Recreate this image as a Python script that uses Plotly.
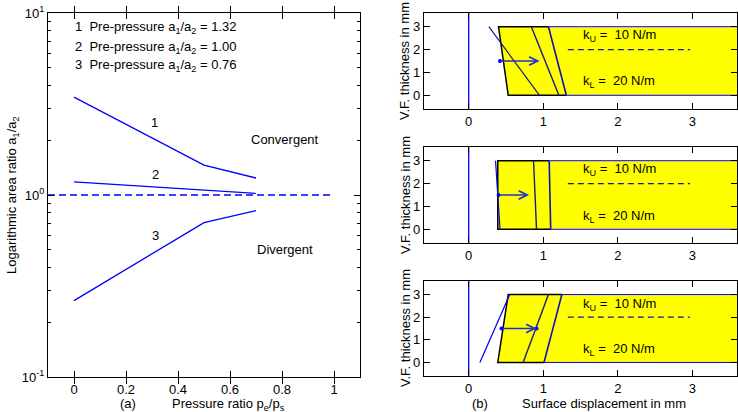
import math
import plotly.graph_objects as go

# ---------------- left panel data ----------------
pressure_ratio = [0.0, 0.5, 0.7]
area_ratio_case1 = [3.45, 1.46, 1.24]
area_ratio_case2 = [1.18, 1.06, 1.02]
area_ratio_case3 = [0.263, 0.705, 0.82]
unity_x = [-0.1, 1.0]
unity_y = [1.0, 1.0]
case_labels = ["1", "2", "3"]
case_label_x = [0.31, 0.315, 0.315]
case_label_y = [2.5, 1.29, 0.6]
preset_ratios = ["1.32", "1.00", "0.76"]
regime_labels = ["Convergent", "Divergent"]
regime_x = [0.81, 0.81]
regime_y = [2.03, 0.505]
left_xticks = [0, 0.2, 0.4, 0.6, 0.8, 1]
left_yticks = [0.1, 1, 10]
left_yticktext = ["10<sup>-1</sup>", "10<sup>0</sup>", "10<sup>1</sup>"]
left_minor = [0.2, 0.3, 0.4, 0.5, 0.6, 0.7, 0.8, 0.9, 2, 3, 4, 5, 6, 7, 8, 9]

# ---------------- right panels data ----------------
layer_bottom, layer_top = 0.0, 3.0
layer_left_top = [0.40, 0.39, 0.53]
layer_left_bottom = [0.53, 0.39, 0.39]
lineA_top = [0.27, 0.36, 0.55]
lineA_bottom = [0.95, 0.42, 0.15]
lineB_top = [0.84, 0.87, 1.07]
lineB_bottom = [1.21, 0.91, 0.73]
lineC_top = [1.07, 1.08, 1.25]
lineC_bottom = [1.31, 1.10, 1.01]
arrow_start = [0.42, 0.40, 0.44]
arrow_end = [0.95, 0.81, 0.91]
arrow_end_dot = [False, False, True]
arrow_y = 1.5
divider_x = [1.33, 2.97]
divider_y = 2.0
k_upper = "10 N/m"
k_lower = "20 N/m"
k_text_x = 1.5
k_upper_y = [2.62, 2.62, 2.57]
k_lower_y = [0.59, 0.56, 0.59]
right_xticks = [0, 1, 2, 3]
right_yticks = [0, 1, 2, 3]
x_far = 3.7

BLUE = "#0000ff"
NAVY = "#1a1a80"
FONT = "Liberation Sans, Arial, sans-serif"
TXT = dict(size=13, color="black", family=FONT)

fig = go.Figure()

# left panel
for ys in (area_ratio_case1, area_ratio_case2, area_ratio_case3):
    fig.add_trace(go.Scatter(x=pressure_ratio, y=ys, mode="lines",
                             line=dict(color=BLUE, width=1.3),
                             xaxis="x", yaxis="y", showlegend=False))
fig.add_trace(go.Scatter(x=unity_x, y=unity_y, mode="lines",
                         line=dict(color=BLUE, width=1.3, dash="7px,4px"),
                         xaxis="x", yaxis="y", showlegend=False))
# invisible carrier for the minor-tick overlay axis
fig.add_trace(go.Scatter(x=unity_x, y=unity_y, mode="lines", opacity=0,
                         line=dict(width=0), xaxis="x", yaxis="y5", showlegend=False,
                         hoverinfo="skip"))

annotations = []
for lab, lx, ly in zip(case_labels, case_label_x, case_label_y):
    annotations.append(dict(x=lx, y=math.log10(ly), xref="x", yref="y", text=lab,
                            xanchor="center", yanchor="middle", showarrow=False, font=TXT))
for lab, lx, ly in zip(regime_labels, regime_x, regime_y):
    annotations.append(dict(x=lx, y=math.log10(ly), xref="x", yref="y", text=lab,
                            xanchor="center", yanchor="middle", showarrow=False, font=TXT))
legend_y = [0.918, 0.813, 0.709]
for lab, r, ly in zip(case_labels, preset_ratios, legend_y):
    annotations.append(dict(x=-0.003, y=ly, xref="x", yref="y", xanchor="left", yanchor="middle",
                            text=f"{lab}\u00a0\u00a0Pre-pressure a<sub>1</sub>/a<sub>2</sub> = {r}",
                            showarrow=False, font=TXT))

# right panels
for i in range(3):
    xa = f"x{i + 2}"
    ya = f"y{i + 2}"
    fig.add_trace(go.Scatter(
        x=[layer_left_top[i], x_far, x_far, layer_left_bottom[i], layer_left_top[i]],
        y=[layer_top, layer_top, layer_bottom, layer_bottom, layer_top],
        mode="lines", fill="toself", fillcolor="#ffff00",
        line=dict(width=0, color="rgba(0,0,0,0)"),
        xaxis=xa, yaxis=ya, showlegend=False, hoverinfo="skip"))
    fig.add_trace(go.Scatter(
        x=[lineC_top[i], layer_left_top[i], layer_left_bottom[i], lineC_bottom[i]],
        y=[layer_top, layer_top, layer_bottom, layer_bottom],
        mode="lines", line=dict(color="black", width=1.5),
        xaxis=xa, yaxis=ya, showlegend=False))
    fig.add_trace(go.Scatter(x=[lineC_top[i], x_far], y=[layer_top, layer_top], mode="lines",
                             line=dict(color=BLUE, width=1), xaxis=xa, yaxis=ya, showlegend=False))
    fig.add_trace(go.Scatter(x=[lineC_bottom[i], x_far], y=[layer_bottom, layer_bottom], mode="lines",
                             line=dict(color=BLUE, width=1), xaxis=xa, yaxis=ya, showlegend=False))
    fig.add_trace(go.Scatter(x=[0, 0], y=[-0.6, 3.6], mode="lines",
                             line=dict(color=BLUE, width=1.3), xaxis=xa, yaxis=ya, showlegend=False))
    fig.add_trace(go.Scatter(x=[lineA_top[i], lineA_bottom[i]], y=[layer_top, layer_bottom], mode="lines",
                             line=dict(color=NAVY if i == 0 else BLUE, width=1.2),
                             xaxis=xa, yaxis=ya, showlegend=False))
    fig.add_trace(go.Scatter(x=[lineB_top[i], lineB_bottom[i]], y=[layer_top, layer_bottom], mode="lines",
                             line=dict(color=NAVY, width=1.4), xaxis=xa, yaxis=ya, showlegend=False))
    fig.add_trace(go.Scatter(x=[lineC_top[i], lineC_bottom[i]], y=[layer_top, layer_bottom], mode="lines",
                             line=dict(color="#1010c0", width=1.6), xaxis=xa, yaxis=ya, showlegend=False))
    fig.add_trace(go.Scatter(x=divider_x, y=[divider_y, divider_y], mode="lines",
                             line=dict(color=NAVY, width=1.3, dash="6px,4px"),
                             xaxis=xa, yaxis=ya, showlegend=False))
    dots_x = [arrow_start[i]] + ([arrow_end[i]] if arrow_end_dot[i] else [])
    fig.add_trace(go.Scatter(x=dots_x, y=[arrow_y] * len(dots_x), mode="markers",
                             marker=dict(color=BLUE, size=4), xaxis=xa, yaxis=ya, showlegend=False))
    annotations.append(dict(x=arrow_end[i], y=arrow_y, ax=arrow_start[i], ay=arrow_y,
                            xref=xa, yref=ya, axref=xa, ayref=ya, text="", showarrow=True,
                            arrowhead=5, arrowsize=1.2, arrowwidth=1.4, arrowcolor="#2030d0"))
    annotations.append(dict(x=k_text_x, y=k_upper_y[i], xref=xa, yref=ya, xanchor="left",
                            yanchor="middle", text=f"k<sub>U</sub> =\u00a0\u00a0{k_upper}",
                            showarrow=False, font=TXT))
    annotations.append(dict(x=k_text_x, y=k_lower_y[i], xref=xa, yref=ya, xanchor="left",
                            yanchor="middle", text=f"k<sub>L</sub> =\u00a0\u00a0{k_lower}",
                            showarrow=False, font=TXT))

W, H = 738, 412
ML, MR, MT, MB = 48, 1, 13, 35
PW, PH = W - ML - MR, H - MT - MB


def px(x):
    return (x - ML) / PW


def py(y):
    return (H - MB - y) / PH


def paper_text(x, y, text, angle=0):
    return dict(x=px(x), y=py(y), xref="paper", yref="paper", xanchor="center",
                yanchor="middle", textangle=angle, showarrow=False, text=text, font=TXT)


annotations += [
    paper_text(12, 195, "Logarithmic area ratio a<sub>1</sub>/a<sub>2</sub>", -90),
    paper_text(128, 403, "(a)"),
    paper_text(228, 404, "Pressure ratio p<sub>e</sub>/p<sub>s</sub>"),
    paper_text(480, 403, "(b)"),
    paper_text(604, 403, "Surface displacement in mm"),
]
for cy in (61, 195, 328):
    annotations.append(paper_text(405, cy, "V.F. thickness in mm", -90))

axis_common = dict(showline=True, linecolor="black", linewidth=1.2, mirror="allticks",
                   ticks="inside", tickcolor="black", ticklen=6, showgrid=False, zeroline=False,
                   automargin=False, tickfont=TXT)

layout = dict(
    width=W, height=H, margin=dict(l=ML, r=MR, t=MT, b=MB, autoexpand=False),
    paper_bgcolor="white", plot_bgcolor="white", showlegend=False,
    annotations=annotations,
    xaxis=dict(domain=[0, px(360)], anchor="y", range=[-0.1, 1.1], tickvals=left_xticks,
               ticktext=[str(t) for t in left_xticks], **axis_common),
    yaxis=dict(domain=[0, 1], anchor="x", type="log", range=[-1, 1],
               tickmode="array", tickvals=left_yticks, ticktext=left_yticktext,
               **axis_common),
    yaxis5=dict(overlaying="y", anchor="x", side="left", type="log", range=[-1, 1],
                tickmode="array", tickvals=left_minor, showticklabels=False,
                ticks="inside", ticklen=3, tickcolor="black", showline=True,
                linecolor="black", linewidth=1.2, mirror="ticks", showgrid=False,
                zeroline=False, automargin=False),
)
ydoms = [[py(109), 1.0], [py(243), py(147)], [py(376), py(281)]]
for i in range(3):
    layout[f"xaxis{i + 2}"] = dict(domain=[px(424), 1.0], anchor=f"y{i + 2}", range=[-0.6, 3.6],
                                   tickvals=right_xticks, **axis_common)
    layout[f"yaxis{i + 2}"] = dict(domain=ydoms[i], anchor=f"x{i + 2}", range=[-0.6, 3.6],
                                   tickvals=right_yticks, **axis_common)

fig.update_layout(**layout)
fig.write_html("out.html", config={"displayModeBar": False},
               post_script="document.body.style.margin='0px';document.body.style.padding='0px';")
